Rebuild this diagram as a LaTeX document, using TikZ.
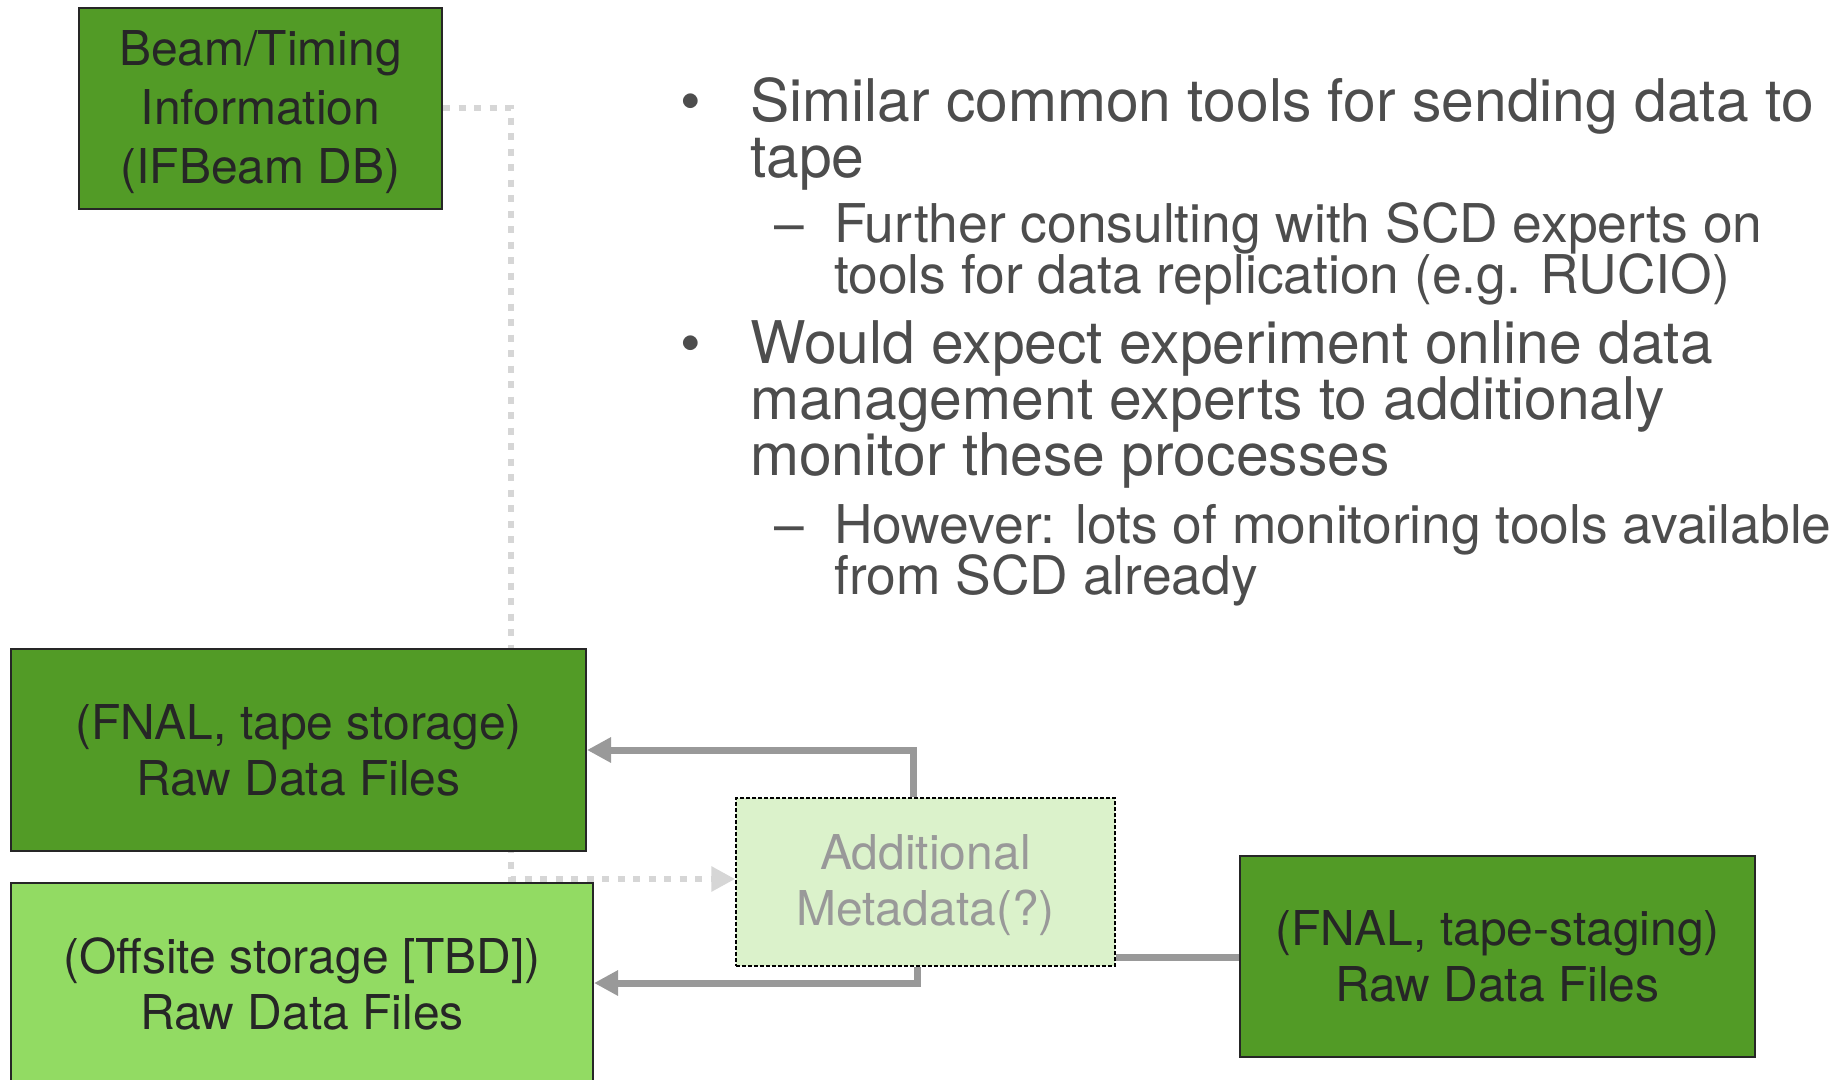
\documentclass[tikz,border=0pt]{standalone}
\usepackage{fontspec}
\setmainfont{TeX Gyre Heros}
\usetikzlibrary{arrows.meta,backgrounds}
\definecolor{dkgreen}{HTML}{529B26}
\definecolor{ltgreen}{HTML}{92DB63}
\definecolor{palegreen}{HTML}{DBF2CB}
\definecolor{boxtext}{HTML}{262626}
\definecolor{bodytext}{HTML}{4D4D4D}
\definecolor{flowgray}{HTML}{999999}
\definecolor{dotgray}{HTML}{D6D6D6}
\begin{document}
\begin{tikzpicture}[x=1pt,y=-1pt,
  box/.style={draw=black!85, line width=2pt, align=center, text=boxtext,
    font=\fontsize{48}{56}\selectfont, inner sep=0pt},
  boxtxt/.style={align=center, text=boxtext, inner sep=0pt,
    font=\fontsize{48}{59}\selectfont},
  darkbox/.style={box, fill=dkgreen},
  lightbox/.style={box, fill=ltgreen},
  metabox/.style={box, fill=palegreen, draw=black, line width=1.5pt,
    dash pattern=on 4pt off 2pt},
  flow/.style={draw=flowgray, line width=7pt, line join=miter,
    -{Triangle[length=24pt,width=24pt]}},
  plainflow/.style={draw=flowgray, line width=7pt},
  dotflow/.style={draw=dotgray, line width=6.5pt, dash pattern=on 7pt off 8.5pt,
    -{Triangle[length=24pt,width=24pt,fill=dotgray]}},
  mainline/.style={anchor=base west, inner sep=0pt, text=bodytext,
    font=\fontsize{58.8}{56}\selectfont},
  subline/.style={anchor=base west, inner sep=0pt, text=bodytext,
    font=\fontsize{53.4}{52}\selectfont},
]
\useasboundingbox (0,0) rectangle (1843,1079);
\clip (0,0) rectangle (1843,1079);

% data boxes
\node[darkbox, minimum width=363pt, minimum height=201pt,
  label={[boxtxt, yshift=-4pt]center:{Beam/Timing\\Information\\(IFBeam DB)}}]
  (beam) at (260.5,108.5) {};
\node[darkbox, minimum width=575pt, minimum height=202pt] (tape) at (298.5,750)
  {(FNAL, tape storage)\\Raw Data Files};
\node[lightbox, minimum width=582pt, minimum height=202pt] (offsite) at (302,984)
  {(Offsite storage [TBD])\\Raw Data Files};
\node[metabox, minimum width=379pt, minimum height=168pt,
  label={[boxtxt, text=flowgray, font=\fontsize{48}{56}\selectfont, yshift=-3.5pt]center:{Additional\\Metadata(?)}}]
  (meta) at (925.5,882) {};
\node[darkbox, minimum width=515pt, minimum height=201pt] (staging) at (1497.5,956.5)
  {(FNAL, tape-staging)\\Raw Data Files};

% connectors
\coordinate (d1) at (511,108);
\coordinate (d2) at (511,879);
\begin{scope}[on background layer]
  \draw[dotflow] (beam.east |- d1) -- (d1) -- (d2) -- (d2 -| meta.west);
\end{scope}
\coordinate (u1) at (913,750);
\draw[flow] (u1 |- meta.north) -- (u1) -- (u1 -| tape.east);
\coordinate (l1) at (917,983);
\draw[flow] (l1 |- meta.south) -- (l1) -- (l1 -| offsite.east);
\coordinate (r1) at (0,957);
\draw[plainflow] (meta.east |- r1) -- (staging.west |- r1);

% bullet list
\node[mainline] (b1) at (680,121) {•};
\node[mainline] (t1a) at (750,121) {Similar common tools for sending data to};
\node[mainline] (t1b) at (750,177) {tape};
\node[subline] (s1) at (774,242) {–};
\node[subline] (t2a) at (834,242) {Further consulting with SCD experts on};
\node[subline] (t2b) at (834,293) {tools for data replication (e.g. RUCIO)};
\node[mainline] (b2) at (680,363) {•};
\node[mainline] (t3a) at (750,363) {Would expect experiment online data};
\node[mainline] (t3b) at (750,419) {management experts to additionaly};
\node[mainline] (t3c) at (750,475) {monitor these processes};
\node[subline] (s2) at (774,543) {–};
\node[subline] (t4a) at (834,543) {However: lots of monitoring tools available};
\node[subline] (t4b) at (834,594) {from SCD already};
\end{tikzpicture}
\end{document}
